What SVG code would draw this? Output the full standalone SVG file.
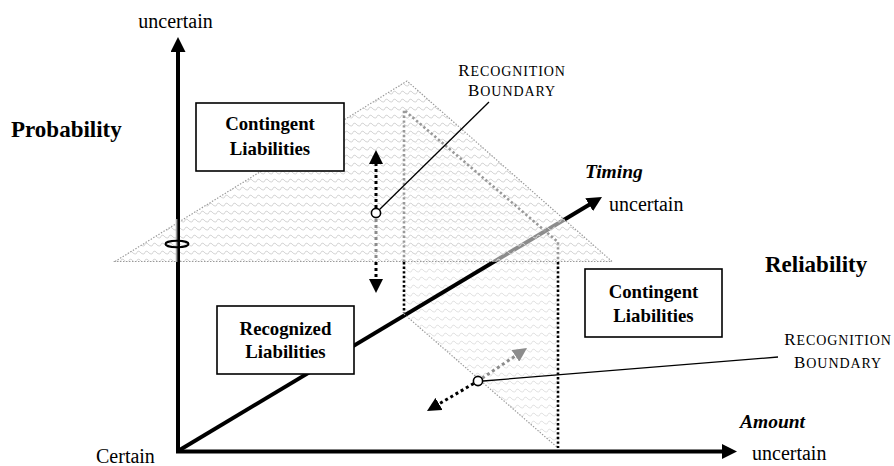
<svg xmlns="http://www.w3.org/2000/svg" width="894" height="466" viewBox="0 0 894 466">
<style>
text{font-family:"Liberation Serif","Times New Roman",serif;fill:#000}
.lbl{font-size:20px}
.big{font-size:23px;font-weight:bold}
.box{font-size:18.8px;font-weight:bold}
.axn{font-size:19.5px;font-weight:bold;font-style:italic}
.sc{letter-spacing:0.9px}
.cap{font-size:17px}
.sml{font-size:14px}
.axis{stroke:#000;stroke-width:4;fill:none}
.outline{fill:none;stroke:#9a9a9a;stroke-width:1.2;stroke-dasharray:1.4 1.6}
.gdot{fill:none;stroke:#999;stroke-width:2.6;stroke-dasharray:2.4 2.4}
.bdot{fill:none;stroke:#000;stroke-width:2.6;stroke-dasharray:2.4 2.2}
.adot{fill:none;stroke:#000;stroke-width:3;stroke-dasharray:3 3}
.agdot{fill:none;stroke:#8c8c8c;stroke-width:3;stroke-dasharray:3 3}
.call{stroke:#000;stroke-width:1.3;fill:none}
.rect{fill:#fff;stroke:#000;stroke-width:1.6}
</style>
<defs>
<pattern id="wave" width="8" height="8" patternUnits="userSpaceOnUse">
<path d="M0,6 Q2,1.5 4,4 Q6,6.5 8,6" fill="none" stroke="#d4d4d4" stroke-width="1" stroke-linejoin="round"/>
<path d="M0,6 L2,2.5 L4,5.5 L6,2.5 L8,6" fill="none" stroke="none"/>
</pattern>
<pattern id="wave2" width="8" height="8" patternUnits="userSpaceOnUse" x="3" y="2">
<path d="M0,6 Q2,1.5 4,4 Q6,6.5 8,6" fill="none" stroke="#e2e2e2" stroke-width="1"/>
</pattern>
<marker id="axhead" markerUnits="userSpaceOnUse" viewBox="0 0 15 15" markerWidth="15" markerHeight="15" refX="1" refY="7.5" orient="auto">
<path d="M0,0 L15,7.5 L0,15 z" fill="#000"/>
</marker>
<marker id="sh" markerUnits="userSpaceOnUse" viewBox="0 0 14 14" markerWidth="14" markerHeight="14" refX="1" refY="7" orient="auto">
<path d="M0,0 L14,7 L0,14 z" fill="#000"/>
</marker>
<marker id="shg" markerUnits="userSpaceOnUse" viewBox="0 0 14 14" markerWidth="14" markerHeight="14" refX="1" refY="7" orient="auto">
<path d="M0,0 L14,7 L0,14 z" fill="#8c8c8c"/>
</marker>
</defs>

<g id="vertical-plane-fill">
<polygon points="404,110 558,242 558,448 404,314" fill="url(#wave2)"/>
</g>

<g id="timing-axis">
<line class="axis" x1="178" y1="451" x2="590" y2="204.2" marker-end="url(#axhead)"/>
</g>

<g id="horizontal-plane">
<polygon points="115,261.5 407,81 612,261.5" fill="#fff" fill-opacity="0.55"/>
<polygon points="115,261.5 407,81 612,261.5" fill="url(#wave)"/>
<polygon class="outline" points="115,261.5 407,81 612,261.5"/>
</g>

<g id="vertical-plane">
<path class="outline" d="M404,314 L558,448"/>
<path class="gdot" d="M404,262 L404,110 L558,242 L558,261"/>
<path class="bdot" d="M404,262 L404,313"/>
<path class="bdot" d="M558,262 L558,448"/>
</g>

<g id="axes">
<line class="axis" x1="178" y1="453" x2="178" y2="51" marker-end="url(#axhead)"/>
<rect x="175.8" y="219" width="1.6" height="43" fill="#9a9a9a"/>
<line class="axis" x1="176" y1="451.5" x2="723" y2="451.5" marker-end="url(#axhead)"/>
<ellipse cx="177" cy="244" rx="11.5" ry="3.2" fill="none" stroke="#000" stroke-width="2"/>
</g>

<g id="connectors">
<line class="adot" x1="376" y1="208" x2="376" y2="163" marker-end="url(#sh)"/>
<line class="agdot" x1="376" y1="219" x2="376" y2="260"/>
<line class="adot" x1="376" y1="262" x2="376" y2="280" marker-end="url(#sh)"/>
<line class="call" x1="379.5" y1="209.5" x2="489" y2="102"/>
<line class="adot" x1="473.7" y1="383.5" x2="438.2" y2="404.4" marker-end="url(#sh)"/>
<line class="agdot" x1="482.1" y1="378.2" x2="516.2" y2="355.3" marker-end="url(#shg)"/>
<line class="call" x1="483" y1="381" x2="778" y2="357"/>
<circle cx="376" cy="213" r="4.6" fill="#fff" stroke="#000" stroke-width="1.6"/>
<circle cx="478" cy="381" r="4.6" fill="#fff" stroke="#000" stroke-width="1.6"/>
</g>

<g id="contingent-top">
<rect class="rect" x="196" y="103" width="148" height="68"/>
<text class="box" x="270" y="130" text-anchor="middle">Contingent</text>
<text class="box" x="270" y="155" text-anchor="middle">Liabilities</text>
</g>

<g id="recognized">
<rect class="rect" x="217" y="306" width="137" height="68"/>
<text class="box" x="285.5" y="334.5" text-anchor="middle">Recognized</text>
<text class="box" x="285.5" y="358" text-anchor="middle">Liabilities</text>
</g>

<g id="contingent-right">
<rect class="rect" x="585" y="269" width="137" height="68"/>
<text class="box" x="653.5" y="298" text-anchor="middle">Contingent</text>
<text class="box" x="653.5" y="322" text-anchor="middle">Liabilities</text>
</g>

<g id="boundary-top">
<text class="sc" x="512" y="75.5" text-anchor="middle"><tspan class="cap">R</tspan><tspan class="sml">ECOGNITION</tspan></text>
<text class="sc" x="512" y="96" text-anchor="middle"><tspan class="cap">B</tspan><tspan class="sml">OUNDARY</tspan></text>
</g>

<g id="boundary-right">
<text class="sc" x="838" y="344.5" text-anchor="middle"><tspan class="cap">R</tspan><tspan class="sml">ECOGNITION</tspan></text>
<text class="sc" x="838" y="368" text-anchor="middle"><tspan class="cap">B</tspan><tspan class="sml">OUNDARY</tspan></text>
</g>

<g id="labels">
<text class="lbl" x="175.5" y="27.5" text-anchor="middle">uncertain</text>
<text class="big" x="11" y="136.5">Probability</text>
<text class="big" x="765" y="272">Reliability</text>
<text class="axn" x="585" y="178">Timing</text>
<text class="lbl" x="609" y="210.5">uncertain</text>
<text class="axn" x="740" y="428">Amount</text>
<text class="lbl" x="752" y="460">uncertain</text>
<text class="lbl" x="96" y="463">Certain</text>
</g>
</svg>
